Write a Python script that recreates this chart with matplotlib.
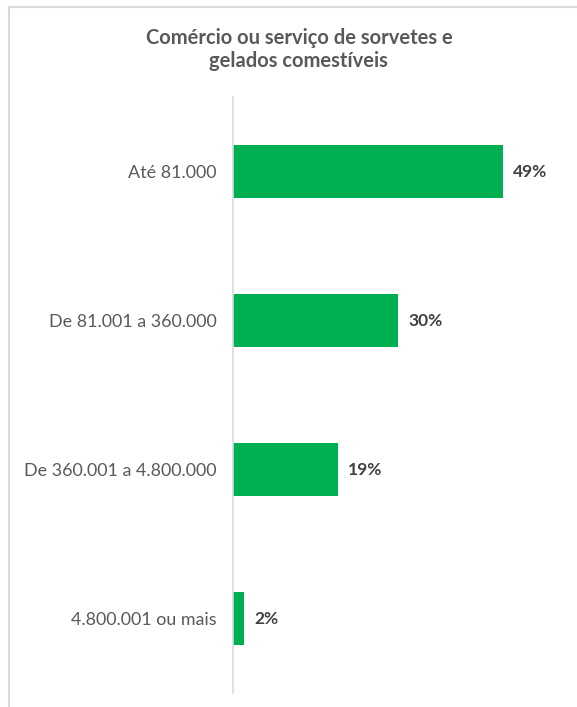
import matplotlib.pyplot as plt
from matplotlib.patches import Rectangle

categories = ['Até 81.000', 'De 81.001 a 360.000', 'De 360.001 a 4.800.000', '4.800.001 ou mais']
values = [49, 30, 19, 2]
labels = ['49%', '30%', '19%', '2%']

plt.rcParams['font.family'] = ['Lato', 'DejaVu Sans']

fig = plt.figure(figsize=(5.77, 7.07), dpi=100)
ax = fig.add_axes([0.4038, 0.0198, 0.5685, 0.843])

y = list(range(len(categories)))
ax.barh(y, values, height=0.35, color='#00B050')
ax.set_ylim(len(categories) - 0.5, -0.5)
ax.set_xlim(0, 59.6)

for yi, v, lab in zip(y, values, labels):
    ax.text(v + 1.9, yi, lab, va='center', ha='left', fontsize=12.5,
            fontweight='bold', color='#404040')

ax.set_yticks(y)
ax.set_yticklabels(categories, fontsize=12.9, color='#595959')
ax.tick_params(axis='y', length=0, pad=12)
ax.set_xticks([])
for s in ['top', 'right', 'bottom']:
    ax.spines[s].set_visible(False)
ax.spines['left'].set_color('#D9D9D9')
ax.spines['left'].set_linewidth(1.2)

fig.text(0.518, 0.930, 'Comércio ou serviço de sorvetes e\ngelados comestíveis',
         ha='center', va='center', fontsize=14.5, fontweight='bold',
         color='#595959', linespacing=1.2)

# chart border (cut off at right and bottom)
fig.patches.append(Rectangle((9 / 577, -0.05), 1.0, 1.05 - 7 / 707,
                             transform=fig.transFigure, fill=False,
                             edgecolor='#D9D9D9', linewidth=1.5))

fig.savefig('out.png', dpi=100)
